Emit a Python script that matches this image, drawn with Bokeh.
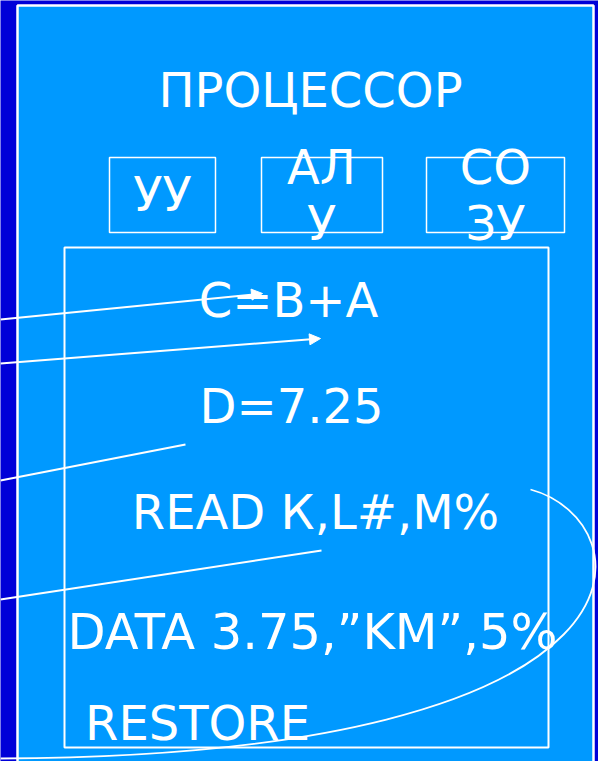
from bokeh.plotting import figure
from bokeh.models import Range1d, Arrow, NormalHead
from bokeh.core.properties import value
from bokeh.embed import file_html
from bokeh.resources import INLINE

# --- content ---
title_text = ["ПРОЦЕССОР"]
unit_labels = ["УУ", "АЛ\nУ", "СО\nЗУ"]
program_lines = ["C=B+A", "D=7.25", "READ К,L#,M%", "DATA 3.75,”KM”,5%", "RESTORE"]

# --- geometry (image pixel coordinates, y downward) ---
unit_left = [109, 261, 426]
unit_right = [215, 382, 564]
unit_top = [157, 157, 157]
unit_bottom = [232, 232, 232]
unit_text_x = [162, 321, 495]
unit_line1_y = [193, 166, 166]
unit_line2_y = [None, 222, 222]

title_x, title_y = [310], [89]
prog_x = [288, 291, 315, 312, 197]
prog_y = [299, 405, 511, 631, 722]
prog_size = ["48px", "48px", "48px", "49.5px", "48px"]

arrow_x0 = [0, 0]
arrow_y0 = [319, 363]
arrow_x1 = [262, 320]
arrow_y1 = [293, 338]

seg_x0 = [0, 0]
seg_y0 = [480, 599]
seg_x1 = [185, 321]
seg_y1 = [444, 550]

curve_x0, curve_y0 = [530], [489]
curve_cx0, curve_cy0 = [645], [520]
curve_cx1, curve_cy1 = [680], [755]
curve_x1, curve_y1 = [0], [758]

DARK = "#0000D8"
LIGHT = "#0099FF"
FONT = value("DejaVu Sans")

p = figure(width=598, height=761, x_range=Range1d(0, 598), y_range=Range1d(761, 0),
           output_backend="svg", toolbar_location=None, min_border=0)
p.axis.visible = False
p.grid.visible = False
p.outline_line_color = None
p.background_fill_color = DARK
p.border_fill_color = DARK

# main panel
p.quad(left=[17], right=[593], top=[5], bottom=[800], fill_color=LIGHT,
       line_color="white", line_width=2.5)

# title
p.text(x=title_x, y=title_y, text=title_text, text_font=FONT, text_font_size="48px",
       text_color="white", text_align="center", text_baseline="alphabetic")

# unit boxes
p.quad(left=unit_left, right=unit_right, top=unit_top, bottom=unit_bottom,
       fill_color=None, line_color="white", line_width=1.5)
l1 = [s.split("\n")[0] for s in unit_labels]
l2 = [s.split("\n")[1] if "\n" in s else "" for s in unit_labels]
p.text(x=unit_text_x, y=unit_line1_y, text=l1, text_font=FONT, text_font_size="48px",
       text_color="white", text_align="center", text_baseline="alphabetic")
idx = [i for i, s in enumerate(l2) if s]
p.text(x=[unit_text_x[i] for i in idx], y=[unit_line2_y[i] for i in idx],
       text=[l2[i] for i in idx], text_font=FONT, text_font_size="48px",
       text_color="white", text_align="center", text_baseline="alphabetic")

# inner program box
p.quad(left=[64], right=[548], top=[247], bottom=[747], fill_color=None,
       line_color="white", line_width=2)

for tx, ty, tt, ts in zip(prog_x, prog_y, program_lines, prog_size):
    p.text(x=[tx], y=[ty], text=[tt], text_font=FONT, text_font_size=ts,
           text_color="white", text_align="center", text_baseline="alphabetic")

# pointer lines
p.segment(x0=seg_x0, y0=seg_y0, x1=seg_x1, y1=seg_y1, line_color="white", line_width=2)
for xs, ys, xe, ye in zip(arrow_x0, arrow_y0, arrow_x1, arrow_y1):
    p.add_layout(Arrow(end=NormalHead(size=11, fill_color="white", line_color="white"),
                       x_start=xs, y_start=ys, x_end=xe, y_end=ye,
                       line_color="white", line_width=2))

# RESTORE loop curve
p.bezier(x0=curve_x0, y0=curve_y0, x1=curve_x1, y1=curve_y1,
         cx0=curve_cx0, cy0=curve_cy0, cx1=curve_cx1, cy1=curve_cy1,
         line_color="white", line_width=1.8)

open("out.html", "w").write(file_html(p, INLINE))
